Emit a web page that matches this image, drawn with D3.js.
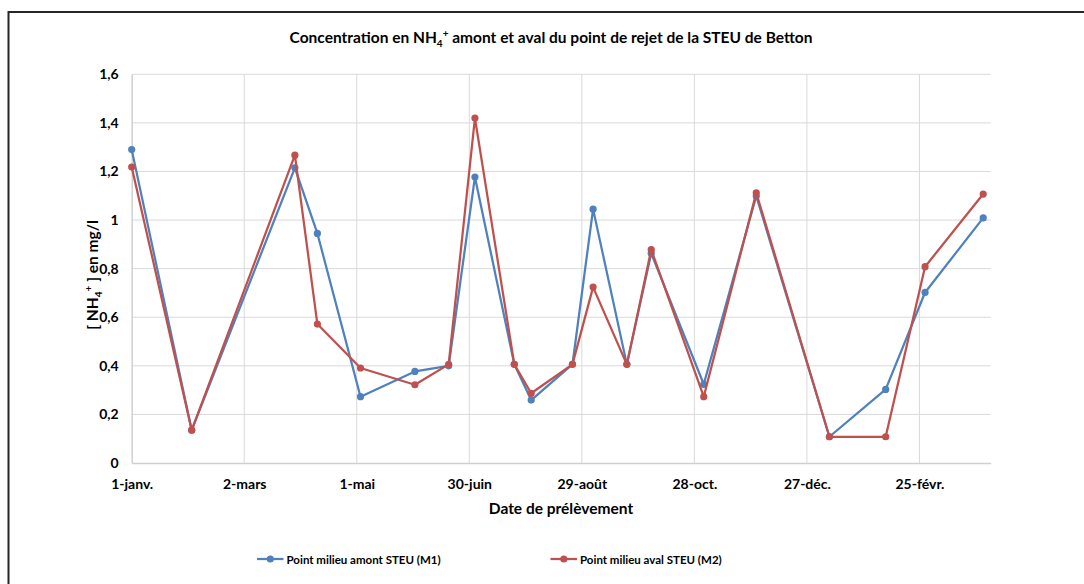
<!DOCTYPE html>
<html>
<head>
<meta charset="utf-8">
<script src="https://cdn.jsdelivr.net/npm/d3@7/dist/d3.min.js"></script>
<style>
  html, body { margin: 0; padding: 0; background: #fff; }
  svg { display: block; }
  text { font-family: Lato, "Open Sans", "Liberation Sans", sans-serif; font-weight: bold; fill: #000; }
</style>
</head>
<body>
<svg id="chart" width="1084" height="584"></svg>
<script>
// ---- DATA ----
// Sampling dates as day offsets from 1 January (year 1)
const sampleDays = [0, 32, 87, 99, 122, 151, 169, 183, 204, 213, 235, 246, 264, 277, 305, 333, 372, 402, 423, 454];
const seriesM1 = [1.29, 0.135, 1.215, 0.945, 0.273, 0.377, 0.40, 1.177, 0.406, 0.259, 0.406, 1.045, 0.406, 0.863, 0.324, 1.099, 0.108, 0.303, 0.702, 1.009];
const seriesM2 = [1.218, 0.135, 1.267, 0.572, 0.391, 0.322, 0.406, 1.42, 0.406, 0.287, 0.406, 0.724, 0.406, 0.878, 0.273, 1.112, 0.108, 0.108, 0.808, 1.107];
const seriesNames = ["Point milieu amont STEU (M1)", "Point milieu aval STEU (M2)"];
const xTickDays = [0, 60, 120, 180, 240, 300, 360, 420];
const xTickLabels = ["1-janv.", "2-mars", "1-mai", "30-juin", "29-août", "28-oct.", "27-déc.", "25-févr."];
const yTicks = [0, 0.2, 0.4, 0.6, 0.8, 1, 1.2, 1.4, 1.6];
const xMaxDay = 458;

const colors = ["#4F81BD", "#C0504D"];

const svg = d3.select("#chart");

// outer chart border (left and top visible)
svg.append("rect")
  .attr("x", 8.5).attr("y", 12).attr("width", 1100).attr("height", 600)
  .attr("fill", "none").attr("stroke", "#262626").attr("stroke-width", 2);

const plot = { left: 131.7, right: 990.7, top: 74.3, bottom: 463 };

const x = d3.scaleLinear().domain([0, xMaxDay]).range([plot.left, plot.right]);
const y = d3.scaleLinear().domain([0, 1.6]).range([plot.bottom, plot.top]);

const fmt = v => d3.format(".1f")(v).replace(".", ",").replace(/,0$/, "");

// horizontal gridlines
svg.append("g").selectAll("line").data(yTicks.slice(1)).join("line")
  .attr("x1", plot.left).attr("x2", plot.right)
  .attr("y1", d => y(d)).attr("y2", d => y(d))
  .attr("stroke", "#d9d9d9").attr("stroke-width", 1);
// vertical gridlines
svg.append("g").selectAll("line").data(xTickDays.slice(1)).join("line")
  .attr("x1", d => x(d)).attr("x2", d => x(d))
  .attr("y1", plot.top).attr("y2", plot.bottom)
  .attr("stroke", "#d9d9d9").attr("stroke-width", 1);

// axes
const yAxis = d3.axisLeft(y).tickValues(yTicks).tickFormat(fmt).tickSize(0).tickPadding(13);
const gy = svg.append("g").attr("transform", `translate(${plot.left},0)`).call(yAxis);
gy.select(".domain").attr("stroke", "#d0d0d0").attr("stroke-width", 1.5);
gy.selectAll("text").style("font-size", "14px").attr("font-family", null);

const xAxis = d3.axisBottom(x).tickValues(xTickDays).tickFormat((d, i) => xTickLabels[i]).tickSize(0).tickPadding(16);
const gx = svg.append("g").attr("transform", `translate(0,${plot.bottom})`).call(xAxis);
gx.select(".domain").attr("stroke", "#d0d0d0").attr("stroke-width", 1.5);
gx.selectAll("text").style("font-size", "14px").attr("font-family", null);

// lines
const series = [seriesM1, seriesM2];
const line = d3.line().x((d, i) => x(sampleDays[i])).y(d => y(d));
series.forEach((s, k) => {
  const g = svg.append("g");
  g.append("path").datum(s).attr("d", line)
    .attr("fill", "none").attr("stroke", colors[k]).attr("stroke-width", 2.25)
    .attr("stroke-linejoin", "round");
  g.selectAll("circle").data(s).join("circle")
    .attr("cx", (d, i) => x(sampleDays[i])).attr("cy", d => y(d))
    .attr("r", 3.6).attr("fill", colors[k]);
});

// title
const title = svg.append("text").attr("x", 551).attr("y", 43).attr("text-anchor", "middle").style("font-size", "15.5px");
title.append("tspan").text("Concentration en NH");
title.append("tspan").text("4").attr("dy", 4).style("font-size", "10px");
title.append("tspan").text("+").attr("dy", -10).style("font-size", "10px");
title.append("tspan").text(" amont et aval du point de rejet de la STEU de Betton").attr("dy", 6);

// y axis title
const yt = svg.append("text").attr("transform", "translate(98,275) rotate(-90)").attr("text-anchor", "middle").style("font-size", "15.5px");
yt.append("tspan").text("[ NH");
yt.append("tspan").text("4").attr("dy", 4).style("font-size", "10px");
yt.append("tspan").text("+").attr("dy", -10).style("font-size", "10px");
yt.append("tspan").text(" ] en mg/l").attr("dy", 6);

// x axis title
svg.append("text").attr("x", 561).attr("y", 514).attr("text-anchor", "middle").style("font-size", "15.5px").text("Date de prélèvement");

// legend
const legendX = [257, 550.5];
seriesNames.forEach((name, k) => {
  const g = svg.append("g").attr("transform", `translate(${legendX[k]},559)`);
  g.append("line").attr("x1", 0).attr("x2", 26.5).attr("y1", 0).attr("y2", 0)
    .attr("stroke", colors[k]).attr("stroke-width", 2.25);
  g.append("circle").attr("cx", 13.3).attr("cy", 0).attr("r", 3.6).attr("fill", colors[k]);
  g.append("text").attr("x", 29.5).attr("y", 4.5).style("font-size", "11.5px").text(name);
});
</script>
</body>
</html>
